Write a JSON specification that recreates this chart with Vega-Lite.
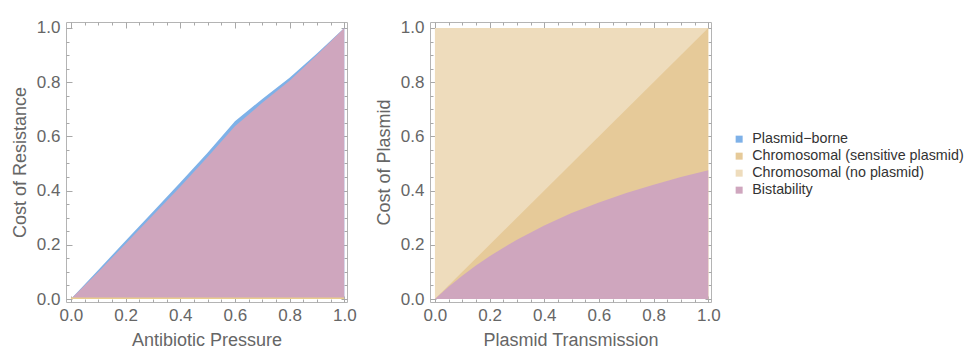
{
  "$schema": "https://vega.github.io/schema/vega-lite/v6.json",
  "padding": {"left": 10, "top": 18, "right": 0, "bottom": 0},
  "background": "white",
  "spacing": 17,
  "config": {
    "font": "Liberation Sans",
    "view": {"stroke": "#b4b4b4", "strokeWidth": 1},
    "axis": {
      "domain": false,
      "grid": false,
      "labelFontSize": 17,
      "labelColor": "#666666",
      "titleFontSize": 18,
      "titleColor": "#666666",
      "titleFontWeight": "normal",
      "tickColor": "#a8a8a8",
      "labelOverlap": false,
      "labelFlush": false
    },
    "axisX": {"labelPadding": 11, "titlePadding": 5},
    "axisY": {"labelPadding": 12, "titlePadding": 7},
    "legend": {
      "labelFontSize": 14.3,
      "labelColor": "#333333",
      "labelLimit": 0,
      "symbolType": "square",
      "symbolSize": 49,
      "symbolStrokeWidth": 0,
      "rowPadding": 2,
      "labelOffset": 6
    }
  },
  "datasets": {
    "leftBlue": [
      {"x": 0, "y": 0, "y0": 0}, {"x": 0.1, "y": 0.107, "y0": 0}, {"x": 0.2, "y": 0.215, "y0": 0},
      {"x": 0.3, "y": 0.322, "y0": 0}, {"x": 0.4, "y": 0.43, "y0": 0}, {"x": 0.5, "y": 0.54, "y0": 0},
      {"x": 0.6, "y": 0.656, "y0": 0}, {"x": 0.7, "y": 0.738, "y0": 0}, {"x": 0.8, "y": 0.816, "y0": 0},
      {"x": 0.9, "y": 0.906, "y0": 0}, {"x": 1, "y": 1, "y0": 0}
    ],
    "leftPink": [
      {"x": 0, "y": 0, "y0": 0}, {"x": 0.1, "y": 0.1, "y0": 0}, {"x": 0.2, "y": 0.204, "y0": 0},
      {"x": 0.3, "y": 0.309, "y0": 0}, {"x": 0.4, "y": 0.414, "y0": 0}, {"x": 0.5, "y": 0.524, "y0": 0},
      {"x": 0.6, "y": 0.637, "y0": 0}, {"x": 0.7, "y": 0.724, "y0": 0}, {"x": 0.8, "y": 0.805, "y0": 0},
      {"x": 0.9, "y": 0.9, "y0": 0}, {"x": 1, "y": 1, "y0": 0}
    ],
    "leftTan": [
      {"x": 0, "y": 0.006, "y0": 0}, {"x": 1, "y": 0.006, "y0": 0}
    ],
    "rightBeige": [
      {"x": 0, "y": 1, "y0": 0}, {"x": 1, "y": 1, "y0": 0}
    ],
    "rightTan": [
      {"x": 0, "y": 0, "y0": 0}, {"x": 1, "y": 1, "y0": 0}
    ],
    "rightPink": [
      {"x": 0, "y": 0, "y0": 0}, {"x": 0.05, "y": 0.045, "y0": 0}, {"x": 0.1, "y": 0.086, "y0": 0},
      {"x": 0.15, "y": 0.124, "y0": 0}, {"x": 0.2, "y": 0.158, "y0": 0}, {"x": 0.3, "y": 0.219, "y0": 0},
      {"x": 0.4, "y": 0.271, "y0": 0}, {"x": 0.5, "y": 0.317, "y0": 0}, {"x": 0.6, "y": 0.356, "y0": 0},
      {"x": 0.7, "y": 0.391, "y0": 0}, {"x": 0.8, "y": 0.422, "y0": 0}, {"x": 0.9, "y": 0.45, "y0": 0},
      {"x": 1, "y": 0.475, "y0": 0}
    ],
    "legendRows": [
      {"region": "Plasmid−borne"},
      {"region": "Chromosomal (sensitive plasmid)"},
      {"region": "Chromosomal (no plasmid)"},
      {"region": "Bistability"}
    ]
  },
  "hconcat": [
    {
      "width": 281,
      "height": 280,
      "resolve": {"axis": {"x": "independent", "y": "independent"}},
      "layer": [
        {
          "data": {"name": "leftBlue"},
          "mark": {"type": "area", "color": "#7eb1e8", "opacity": 1},
          "encoding": {
            "x": {"field": "x", "type": "quantitative", "scale": {"domain": [-0.018, 1.01], "nice": false, "zero": false},
              "axis": {"orient": "bottom", "title": "Antibiotic Pressure", "values": [0,0.05,0.1,0.15,0.2,0.25,0.3,0.35,0.4,0.45,0.5,0.55,0.6,0.65,0.7,0.75,0.8,0.85,0.9,0.95,1],
                "labelExpr": "abs(datum.value*5 - round(datum.value*5)) < 0.000001 ? format(datum.value, '.1f') : ''",
                "tickSize": {"condition": {"test": "abs(datum.value*5 - round(datum.value*5)) < 0.000001", "value": -6}, "value": -3}}},
            "y": {"field": "y", "type": "quantitative", "scale": {"domain": [-0.011, 1.022], "nice": false, "zero": false},
              "axis": {"orient": "left", "title": "Cost of Resistance", "values": [0,0.05,0.1,0.15,0.2,0.25,0.3,0.35,0.4,0.45,0.5,0.55,0.6,0.65,0.7,0.75,0.8,0.85,0.9,0.95,1],
                "labelExpr": "abs(datum.value*5 - round(datum.value*5)) < 0.000001 ? format(datum.value, '.1f') : ''",
                "tickSize": {"condition": {"test": "abs(datum.value*5 - round(datum.value*5)) < 0.000001", "value": -6}, "value": -3}}},
            "y2": {"field": "y0"}
          }
        },
        {
          "data": {"name": "leftPink"},
          "mark": {"type": "area", "color": "#cfa6be", "opacity": 1},
          "encoding": {
            "x": {"field": "x", "type": "quantitative",
              "axis": {"orient": "top", "title": null, "labels": false, "values": [0,0.05,0.1,0.15,0.2,0.25,0.3,0.35,0.4,0.45,0.5,0.55,0.6,0.65,0.7,0.75,0.8,0.85,0.9,0.95,1],
                "tickSize": {"condition": {"test": "abs(datum.value*5 - round(datum.value*5)) < 0.000001", "value": -6}, "value": -3}}},
            "y": {"field": "y", "type": "quantitative",
              "axis": {"orient": "right", "title": null, "labels": false, "values": [0,0.05,0.1,0.15,0.2,0.25,0.3,0.35,0.4,0.45,0.5,0.55,0.6,0.65,0.7,0.75,0.8,0.85,0.9,0.95,1],
                "tickSize": {"condition": {"test": "abs(datum.value*5 - round(datum.value*5)) < 0.000001", "value": -6}, "value": -3}}},
            "y2": {"field": "y0"}
          }
        },
        {
          "data": {"name": "leftTan"},
          "mark": {"type": "area", "color": "#e9cd8f", "opacity": 1},
          "encoding": {
            "x": {"field": "x", "type": "quantitative", "axis": null},
            "y": {"field": "y", "type": "quantitative", "axis": null},
            "y2": {"field": "y0"}
          }
        }
      ]
    },
    {
      "width": 281,
      "height": 280,
      "resolve": {"axis": {"x": "independent", "y": "independent"}, "scale": {"color": "independent"}},
      "layer": [
        {
          "data": {"name": "rightBeige"},
          "mark": {"type": "area", "color": "#eedcbc", "opacity": 1},
          "encoding": {
            "x": {"field": "x", "type": "quantitative", "scale": {"domain": [-0.018, 1.01], "nice": false, "zero": false},
              "axis": {"orient": "bottom", "title": "Plasmid Transmission", "values": [0,0.05,0.1,0.15,0.2,0.25,0.3,0.35,0.4,0.45,0.5,0.55,0.6,0.65,0.7,0.75,0.8,0.85,0.9,0.95,1],
                "labelExpr": "abs(datum.value*5 - round(datum.value*5)) < 0.000001 ? format(datum.value, '.1f') : ''",
                "tickSize": {"condition": {"test": "abs(datum.value*5 - round(datum.value*5)) < 0.000001", "value": -6}, "value": -3}}},
            "y": {"field": "y", "type": "quantitative", "scale": {"domain": [-0.011, 1.022], "nice": false, "zero": false},
              "axis": {"orient": "left", "title": "Cost of Plasmid", "values": [0,0.05,0.1,0.15,0.2,0.25,0.3,0.35,0.4,0.45,0.5,0.55,0.6,0.65,0.7,0.75,0.8,0.85,0.9,0.95,1],
                "labelExpr": "abs(datum.value*5 - round(datum.value*5)) < 0.000001 ? format(datum.value, '.1f') : ''",
                "tickSize": {"condition": {"test": "abs(datum.value*5 - round(datum.value*5)) < 0.000001", "value": -6}, "value": -3}}},
            "y2": {"field": "y0"}
          }
        },
        {
          "data": {"name": "rightTan"},
          "mark": {"type": "area", "color": "#e6ca99", "opacity": 1},
          "encoding": {
            "x": {"field": "x", "type": "quantitative",
              "axis": {"orient": "top", "title": null, "labels": false, "values": [0,0.05,0.1,0.15,0.2,0.25,0.3,0.35,0.4,0.45,0.5,0.55,0.6,0.65,0.7,0.75,0.8,0.85,0.9,0.95,1],
                "tickSize": {"condition": {"test": "abs(datum.value*5 - round(datum.value*5)) < 0.000001", "value": -6}, "value": -3}}},
            "y": {"field": "y", "type": "quantitative",
              "axis": {"orient": "right", "title": null, "labels": false, "values": [0,0.05,0.1,0.15,0.2,0.25,0.3,0.35,0.4,0.45,0.5,0.55,0.6,0.65,0.7,0.75,0.8,0.85,0.9,0.95,1],
                "tickSize": {"condition": {"test": "abs(datum.value*5 - round(datum.value*5)) < 0.000001", "value": -6}, "value": -3}}},
            "y2": {"field": "y0"}
          }
        },
        {
          "data": {"name": "rightPink"},
          "mark": {"type": "area", "color": "#cfa6be", "opacity": 1},
          "encoding": {
            "x": {"field": "x", "type": "quantitative", "axis": null},
            "y": {"field": "y", "type": "quantitative", "axis": null},
            "y2": {"field": "y0"}
          }
        },
        {
          "data": {"name": "legendRows"},
          "mark": {"type": "square", "opacity": 0},
          "encoding": {
            "color": {"field": "region", "type": "nominal",
              "scale": {"domain": ["Plasmid−borne", "Chromosomal (sensitive plasmid)", "Chromosomal (no plasmid)", "Bistability"],
                "range": ["#7eb1e8", "#e6ca99", "#eedcbc", "#cfa6be"]},
              "legend": {"title": null, "orient": "none", "legendX": 302, "legendY": 110, "symbolOpacity": 1}}
          }
        }
      ]
    }
  ]
}
